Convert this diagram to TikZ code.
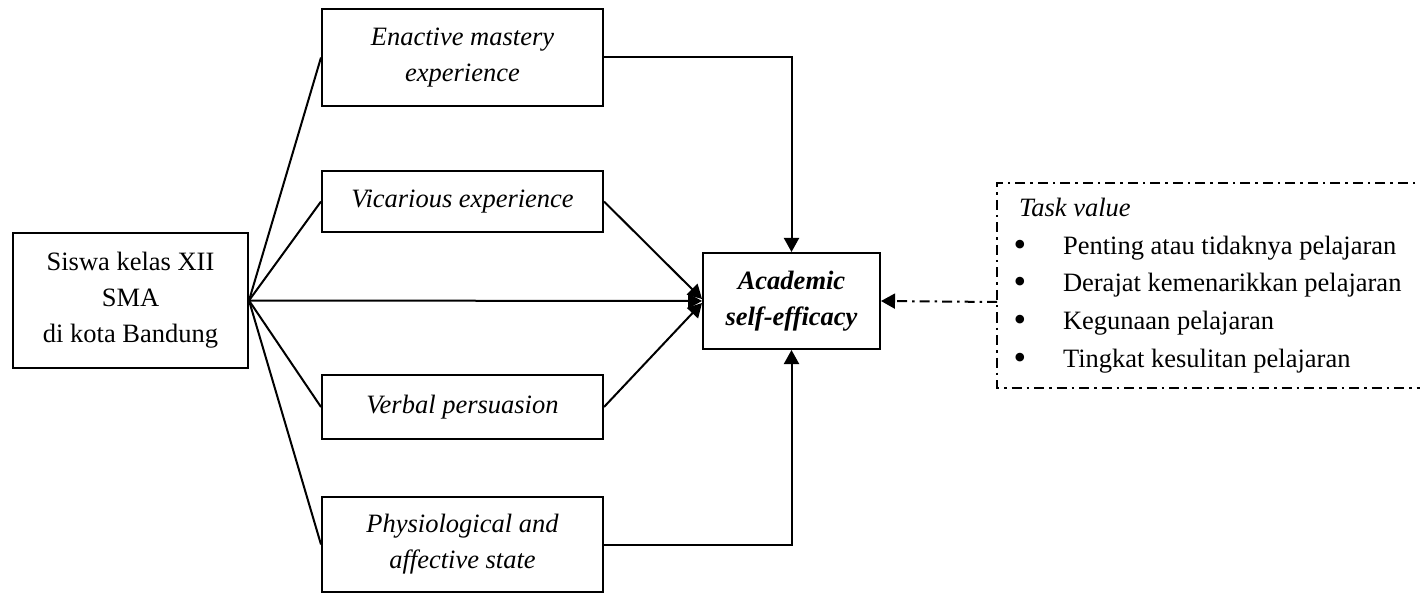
\documentclass[tikz,border=0pt]{standalone}
\usepackage{fontspec}
\setmainfont{Liberation Serif}
\usetikzlibrary{arrows.meta, positioning}
\pgfkeys{/tikz/.cd,
    overall style/.style={
        x=1pt, y=-1pt,
        line width=2pt,
        >={Triangle[length=14pt, width=15pt]},
        execute at begin picture={\fontsize{26.5}{36}\selectfont}
    },
    box style/.style={draw, align=center, inner sep=0pt, minimum width=281pt},
    link style/.style={->},
    task style/.style={dash pattern=on 10pt off 5pt on 2.5pt off 5pt}
}

\begin{document}
\begin{tikzpicture}[overall style]
    \useasboundingbox (0,0) rectangle (1420,593);

    % --- 1. boxes ---
    \node[box style, minimum width=235pt, minimum height=135pt] (siswa) at (130.5,300.5)
        {Siswa kelas XII\\SMA\\di kota Bandung};
    \node[box style, minimum height=97pt, font=\itshape] (enactive) at (462.5,57.5)
        {Enactive mastery\\experience};
    \node[box style, minimum height=61pt, font=\itshape] (vicarious) at (462.5,201.5)
        {Vicarious experience};
    \node[box style, minimum height=64pt, font=\itshape] (verbal) at (462.5,407)
        {Verbal persuasion};
    \node[box style, minimum height=95pt, font=\itshape] (physio) at (462.5,544.5)
        {Physiological and\\affective state};
    \node[box style, minimum width=177pt, minimum height=96pt, font=\bfseries\itshape] (academic) at (791.5,301)
        {Academic\\self-efficacy};

    % --- 2. lines from the students ---
    \foreach \src in {enactive, vicarious, verbal, physio} {
        \draw (siswa.east) -- (\src.west);
    }
    \draw[link style] (siswa.east) -- (academic.west);
    \draw[link style] (vicarious.east) -- ([yshift=2pt]academic.west);
    \draw[link style] (verbal.east) -- ([yshift=-2pt]academic.west);
    \draw[link style] (enactive.east) -| (academic.north);
    \draw[link style] (physio.east) -| (academic.south);

    % --- 3. task value box (open to the right) ---
    \coordinate (tvTL) at (997,183);
    \coordinate (tvBL) at (997,388);
    \coordinate (tvTR) at (1430,183);
    \coordinate (tvBR) at (1430,388);
    \coordinate (tvL) at (997,302);
    \draw[task style] (tvTR) -- (tvTL) -- (tvBL) -- (tvBR);
    \draw[task style, link style] (tvL) -- (academic.east);

    \node[anchor=base west, inner sep=0pt, font=\itshape] (taskvalue) at (1018,217) {Task value};
    \foreach \txt [count=\i] in {Penting atau tidaknya pelajaran,
                                 Derajat kemenarikkan pelajaran,
                                 Kegunaan pelajaran,
                                 Tingkat kesulitan pelajaran} {
        \node[anchor=base, inner sep=0pt, font=\fontsize{36}{36}\selectfont] (bullet\i) at (1020,{219+37.5*\i}) {\textbullet};
        \node[anchor=base west, inner sep=0pt] (item\i) at (1062,{217+37.5*\i}) {\txt};
    }

\end{tikzpicture}
\end{document}
